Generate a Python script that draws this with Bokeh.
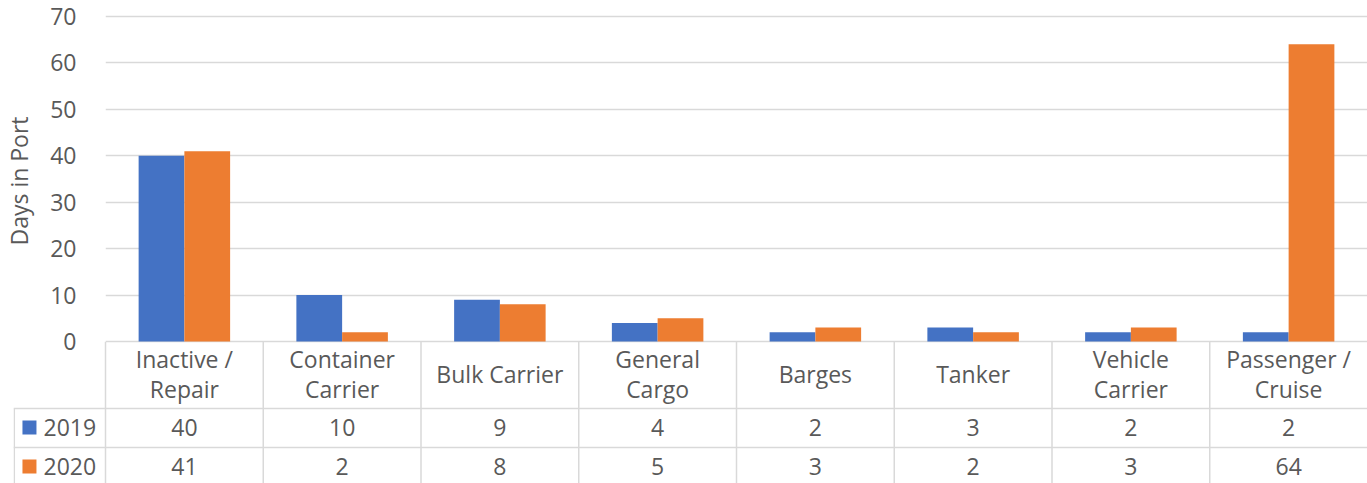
import numpy as np
from bokeh.plotting import figure
from bokeh.layouts import column
from bokeh.models import Range1d, FixedTicker
from bokeh.core.properties import value
from bokeh.embed import file_html
from bokeh.resources import INLINE

categories = ["Inactive /\nRepair", "Container\nCarrier", "Bulk Carrier", "General\nCargo",
              "Barges", "Tanker", "Vehicle\nCarrier", "Passenger /\nCruise"]
series_names = ["2019", "2020"]
values_2019 = [40, 10, 9, 4, 2, 3, 2, 2]
values_2020 = [41, 2, 8, 5, 3, 2, 3, 64]
y_ticks = [0, 10, 20, 30, 40, 50, 60, 70]

BLUE = "#4472C4"
ORANGE = "#ED7D31"
GRID = "#D9D9D9"
TXT = "#595959"
FONT = "Open Sans"
FS = "23px"

n = len(categories)
xc = np.arange(n) + 0.5
W, H = 1367, 483
PPU = 325 / 70.0         # pixels per y unit in the chart
ZERO_Y = 341             # pixel row of the zero line
Y_TOP = 73.45
Y_BOT = -20 / PPU
H1 = int(round((Y_TOP - Y_BOT) * PPU))
FRAME_LEFT = 105

# ---------- chart ----------
p = figure(width=W, height=H1, output_backend="svg", toolbar_location=None,
           x_range=Range1d(0, n), y_range=Range1d(Y_BOT, Y_TOP),
           x_axis_location=None, min_border_left=FRAME_LEFT, min_border_right=0,
           min_border_top=0, min_border_bottom=0)
p.frame_align = False
p.outline_line_color = None
p.xgrid.grid_line_color = None
p.ygrid.grid_line_color = GRID
p.ygrid.grid_line_width = 1.5
p.yaxis.ticker = FixedTicker(ticks=y_ticks)
p.yaxis.axis_line_color = None
p.yaxis.major_tick_line_color = None
p.yaxis.minor_tick_line_color = None
p.yaxis.major_label_text_font = FONT
p.yaxis.major_label_text_font_size = FS
p.yaxis.major_label_text_color = TXT
p.yaxis.major_label_standoff = 23
p.yaxis.axis_label = "Days in Port"
p.yaxis.axis_label_text_font = FONT
p.yaxis.axis_label_text_font_size = FS
p.yaxis.axis_label_text_font_style = "normal"
p.yaxis.axis_label_text_color = TXT
p.yaxis.axis_label_standoff = 12

bw = 0.29
p.vbar(x=xc - bw / 2, top=values_2019, width=bw, fill_color=BLUE, line_color=None)
p.vbar(x=xc + bw / 2, top=values_2020, width=bw, fill_color=ORANGE, line_color=None)

# ---------- data table (transparent overlay, y in pixels below the zero line) ----------
ppx = (W - FRAME_LEFT) / n
left = -(FRAME_LEFT - 13) / ppx
H2 = H - ZERO_Y
t = figure(width=W, height=H2, output_backend="svg", toolbar_location=None,
           x_range=Range1d(left, n), y_range=Range1d(-H2, 0),
           x_axis_location=None, y_axis_location=None,
           min_border_left=13, min_border_right=0, min_border_top=0, min_border_bottom=0,
           margin=(ZERO_Y - H1, 0, 0, 0))
t.frame_align = False
t.outline_line_color = None
t.background_fill_alpha = 0
t.border_fill_alpha = 0
t.xgrid.grid_line_color = None
t.ygrid.grid_line_color = None

hdr_bot, r1_bot, bot = -67, -106, -160
t.segment(x0=list(range(n)), y0=[0] * n, x1=list(range(n)), y1=[bot] * n,
          line_color=GRID, line_width=1.5)
t.segment(x0=[left + 0.005], y0=[hdr_bot], x1=[left + 0.005], y1=[bot],
          line_color=GRID, line_width=1.5)
t.segment(x0=[left, left], y0=[hdr_bot, r1_bot], x1=[n, n], y1=[hdr_bot, r1_bot],
          line_color=GRID, line_width=1.5)

# category header (one or two lines per cell)
hx, hy, ht = [], [], []
for i, c in enumerate(categories):
    parts = c.split("\n")
    ys = [-32] if len(parts) == 1 else [-17, -47]
    for s, yy in zip(parts, ys):
        hx.append(xc[i]); hy.append(yy); ht.append(s)
t.text(x=hx, y=hy, text=ht, text_align="center", text_baseline="middle",
       text_font=value(FONT), text_font_size=FS, text_color=TXT)

t.text(x=xc, y=[-86] * n, text=[str(v) for v in values_2019], text_align="center",
       text_baseline="middle", text_font=value(FONT), text_font_size=FS, text_color=TXT)
t.text(x=xc, y=[-125] * n, text=[str(v) for v in values_2020], text_align="center",
       text_baseline="middle", text_font=value(FONT), text_font_size=FS, text_color=TXT)

# legend keys
t.scatter(x=[-0.482, -0.482], y=[-86, -125], marker="square", size=14,
          fill_color=[BLUE, ORANGE], line_color=None)
t.text(x=[-0.393, -0.393], y=[-86, -125], text=series_names, text_align="left",
       text_baseline="middle", text_font=value(FONT), text_font_size=FS, text_color=TXT)

layout = column(p, t, spacing=0)
open("out.html", "w").write(file_html(layout, INLINE))
